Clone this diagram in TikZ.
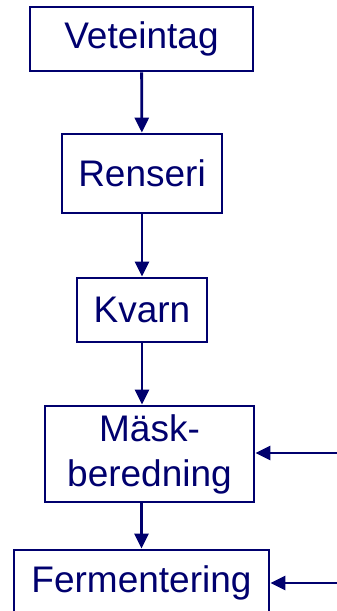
\documentclass[tikz,border=0pt]{standalone}
\usepackage{fontspec}
\setmainfont{Liberation Sans}
\usetikzlibrary{arrows.meta}
\definecolor{FlowClr}{RGB}{0,0,110}

\begin{document}
\begin{tikzpicture}[x=1pt,y=-1pt,
  stepbox/.style={draw=FlowClr,line width=2.8pt,text=FlowClr,align=center,
    inner sep=0pt,font=\fontsize{37}{45}\selectfont},
  flow/.style={draw=FlowClr,line width=2.8pt,-{Triangle[length=15pt,width=14pt]}}]
\useasboundingbox (0,0) rectangle (337,611);

\node[stepbox,minimum width=223pt,minimum height=64pt] (vete) at (141.5,39) {Veteintag};
\node[stepbox,minimum width=160pt,minimum height=79pt] (rens) at (142,173.5) {Renseri};
\node[stepbox,minimum width=130pt,minimum height=64pt] (kvarn) at (142,310) {Kvarn};
\node[stepbox,minimum width=209pt,minimum height=96pt] (mask) at (149.5,454) {Mäsk-\\beredning};
\node[stepbox,minimum width=255pt,minimum height=66pt] (ferm) at (141.5,583) {Fermentering};

\coordinate (in1) at (340,453);
\coordinate (in2) at (340,583);

\draw[flow] (vete) -- (rens);
\draw[flow] (rens) -- (kvarn);
\draw[flow] (kvarn.south) -- (kvarn.south |- mask.north);
\draw[flow] (ferm.north |- mask.south) -- (ferm.north);
\draw[flow] (in1) -- (in1 -| mask.east);
\draw[flow] (in2) -- (ferm.east);

\end{tikzpicture}
\end{document}
